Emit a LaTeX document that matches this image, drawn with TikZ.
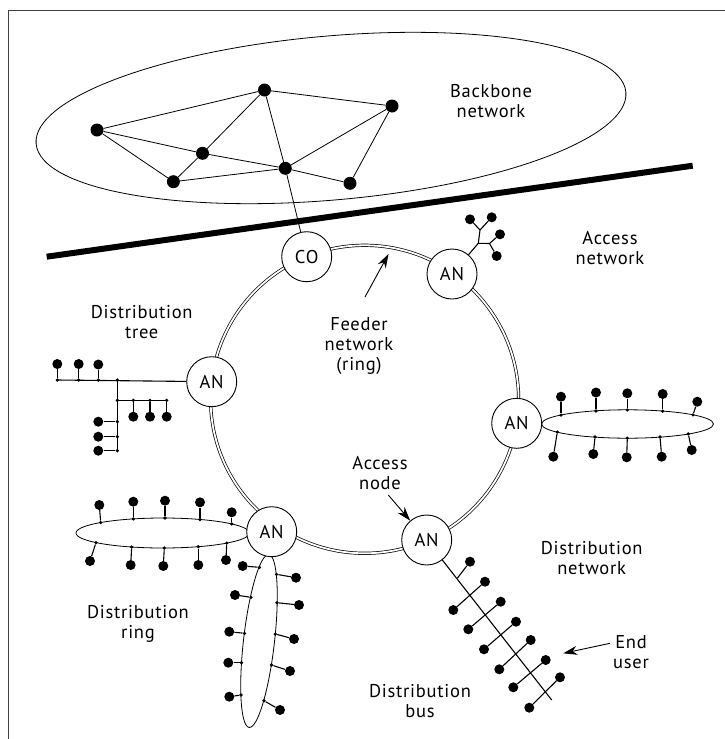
\documentclass[tikz,border=0pt]{standalone}
\usepackage{fontspec}
\setmainfont{PT Sans}[LetterSpace=4]
\usetikzlibrary{arrows.meta}
\begin{document}
\begin{tikzpicture}[x=1pt,y=-1pt,
  txt/.style={font=\fontsize{18.5}{20}\selectfont, align=center, inner sep=0pt},
  bbdot/.style={circle, fill=black, minimum size=13pt, inner sep=0pt},
  udot/.style={circle, fill=black, minimum size=10pt, inner sep=0pt},
  jdot/.style={circle, fill=black, minimum size=3.6pt, inner sep=0pt},
  netnode/.style={circle, draw, fill=white, line width=0.9pt, minimum size=50pt, inner sep=0pt, font=\fontsize{18.5}{20}\selectfont},
  link/.style={line width=0.8pt},
  stub/.style={line width=1.1pt},
  ringline/.style={draw=black, double=white, double distance=1.8pt, line width=0.7pt},
  ptr/.style={line width=0.9pt, -{Stealth[length=14pt, width=9pt]}},
  frameline/.style={line width=1pt, draw=black!75},
  thickline/.style={line width=6pt},
]
\useasboundingbox (0,0) rectangle (725,739);
\draw[frameline] (8,739) -- (8,10) -- (725,10);

% ---------- backbone ----------
\draw[link] (331,118) circle[x radius=296, y radius=82, rotate=5];
\node[bbdot] (A) at (97,130) {};
\node[bbdot] (B) at (264.5,90) {};
\node[bbdot] (C) at (392,106) {};
\node[bbdot] (D) at (202.5,153.3) {};
\node[bbdot] (E) at (173.4,181.7) {};
\node[bbdot] (F) at (285.3,168.3) {};
\node[bbdot] (G) at (350,183.3) {};
\node[txt] (bbl) at (491,101) {Backbone\\network};

\coordinate (tl1) at (46.7,256.7);
\coordinate (tl2) at (692.7,165.7);
\draw[thickline] (tl1) -- (tl2);

% ---------- ring ----------
\coordinate (ringc) at (364.6,399.3);
\draw[ringline] (ringc) circle[radius=154];

% right distribution ring
\draw[link] (627.5,424) circle[x radius=86, y radius=14.2];
% lower-left horizontal ring
\draw[link] (162.7,533) circle[x radius=86.7, y radius=15];
% lower-left vertical ring
\draw[link] (259,641) circle[x radius=15.5, y radius=87, rotate=-6.5];

\node[netnode] (CO) at (306.7,256.7) {CO};
\node[netnode] (ANur) at (452,274) {AN};
\node[netnode] (ANr) at (516.7,423.3) {AN};
\node[netnode] (ANb) at (426.7,540) {AN};
\node[netnode] (ANbl) at (271.7,531.7) {AN};
\node[netnode] (ANl) at (211.7,381.7) {AN};

\draw[link] (A)--(B) (A)--(D) (A)--(E) (D)--(B) (D)--(E) (D)--(F) (E)--(F)
  (B)--(F) (B)--(C) (C)--(F) (C)--(G) (F)--(G) (F)--(CO);

% ---------- labels ----------
\node[txt] (acl) at (610,248) {Access\\network};
\node[txt] (dtl) at (141.7,321.7) {Distribution\\tree};
\node[txt] (fdl) at (359,346) {Feeder\\network\\(ring)};
\node[txt] (anl) at (380,473) {Access\\node};
\node[txt] (dnl) at (591.7,558.3) {Distribution\\network};
\node[txt] (drl) at (138,624) {Distribution\\ring};
\node[txt] (dbl) at (420,701) {Distribution\\bus};
\node[txt] (eul) at (631,652) {End\\user};

\coordinate (fdtail) at (365,297);
\coordinate (fdtip) at (388.5,254);
\draw[ptr] (fdtail) -- (fdtip);
\coordinate (antail) at (388.3,495);
\draw[ptr] (antail) -- (ANb);
\coordinate (eutail) at (610,643.3);
\coordinate (eutip) at (563.3,653.3);
\draw[ptr] (eutail) -- (eutip);

% ---------- small tree at upper-right AN ----------
\coordinate (u1) at (478.3,243.3);
\coordinate (u2) at (480,230);
\coordinate (u3) at (489.5,243.5);
\node[udot] (ud1) at (470,219.3) {};
\node[udot] (ud2) at (491.7,217.3) {};
\node[udot] (ud3) at (500,234.3) {};
\node[udot] (ud4) at (496.7,256) {};
\draw[stub] (ANur) -- (u1) -- (u2) -- (ud1) (u2) -- (ud2) (u1) -- (u3) -- (ud3) (u3) -- (ud4);

% ---------- distribution tree ----------
\node[jdot] (t1) at (57.3,380) {};
\node[jdot] (t2) at (78.7,380) {};
\node[jdot] (t3) at (98.3,380) {};
\node[jdot] (t4) at (117.3,380) {};
\node[jdot] (t5) at (117.3,400.3) {};
\node[jdot] (t6) at (117.3,421.7) {};
\node[jdot] (t7) at (117.3,436.7) {};
\node[jdot] (t8) at (117.3,450.7) {};
\node[jdot] (h1) at (133.3,400.3) {};
\node[jdot] (h2) at (150,400.3) {};
\node[jdot] (h3) at (166.7,400.3) {};
\node[udot] (td1) at (57.3,364) {};
\node[udot] (td2) at (78.7,364) {};
\node[udot] (td3) at (98.3,364.5) {};
\node[udot] (td4) at (133.3,416.7) {};
\node[udot] (td5) at (150,416.7) {};
\node[udot] (td6) at (166.7,416.7) {};
\node[udot] (td7) at (98.3,421.7) {};
\node[udot] (td8) at (98.3,436.7) {};
\node[udot] (td9) at (98.3,450.7) {};
\draw[stub] (t1.center) -- (ANl);
\draw[stub] (t4.center) -- (t8.center) (t5.center) -- (h3.center);
\draw[stub] (t1) -- (td1) (t2) -- (td2) (t3) -- (td3)
  (h1) -- (td4) (h2) -- (td5) (h3) -- (td6)
  (t6) -- (td7) (t7) -- (td8) (t8) -- (td9);

% ---------- right ring users ----------
\foreach \n/\jx/\jy/\dx/\dy in {1/561/415.1/561/396.7, 2/596/411/596/392.5, 3/627.3/410/627.3/393.3,
   4/662.7/411.2/662.7/394, 5/693/414.9/697.3/401.7,
   6/557.3/432.1/553.3/456.7, 7/595/437/593.3/454, 8/627.3/438.2/626.7/457.3,
   9/660/437/661.7/456.7, 10/688.3/433.9/691.7/450}{
  \node[jdot] (rj\n) at (\jx,\jy) {};
  \node[udot] (rd\n) at (\dx,\dy) {};
  \draw[stub] (rj\n) -- (rd\n);
}

% ---------- lower-left horizontal ring users ----------
\foreach \n/\jx/\jy/\dx/\dy in {1/100.7/522.5/99.3/505, 2/133.3/518.9/133.3/501.7, 3/165/518/165/500.7,
   4/200/519.5/200/502.3, 5/231.7/523.9/231.7/512.3,
   6/96/542.6/90/561, 7/131.7/547/130.7/565, 8/164.3/548/163.3/566,
   9/198.3/546.7/198.3/565, 10/226.7/543.1/226/560}{
  \node[jdot] (hj\n) at (\jx,\jy) {};
  \node[udot] (hd\n) at (\dx,\dy) {};
  \draw[stub] (hj\n) -- (hd\n);
}

% ---------- lower-left vertical ring users ----------
\foreach \n/\jx/\jy/\dx/\dy in {1/259.5/567.3/242.7/566, 2/251/597.3/235/595, 3/244.5/633.3/229.3/631.7,
   4/241.5/662.7/228.3/662.7, 5/241/695/229.3/696.7,
   6/276.5/574.3/296/577.7, 7/277/602.7/299/605, 8/275.3/634/294/639,
   9/271.5/665/290/671, 10/264/700.7/280/710}{
  \node[jdot] (vj\n) at (\jx,\jy) {};
  \node[udot] (vd\n) at (\dx,\dy) {};
  \draw[stub] (vj\n) -- (vd\n);
}

% ---------- distribution bus ----------
\coordinate (busend) at (551.7,700);
\draw[stub] (ANb) -- (busend);
\coordinate (bj0) at (457.3,578.3);
\node[udot] (bu1) at (470,561.7) {};
\node[udot] (bu2) at (485,581.7) {};
\node[udot] (bu3) at (500.7,601.7) {};
\node[udot] (bu4) at (516,621.7) {};
\node[udot] (bu5) at (530.7,640) {};
\node[udot] (bu6) at (545.7,660) {};
\node[udot] (bu7) at (560,677.3) {};
\node[udot] (bl1) at (453.3,610) {};
\node[udot] (bl2) at (468.3,629.3) {};
\node[udot] (bl3) at (484,649.3) {};
\node[udot] (bl4) at (499.3,669.3) {};
\node[udot] (bl5) at (513.3,687.3) {};
\node[udot] (bl6) at (529.3,707.7) {};
\draw[stub] (bj0) -- (bu1) (bl1) -- (bu2) (bl2) -- (bu3) (bl3) -- (bu4)
  (bl4) -- (bu5) (bl5) -- (bu6) (bl6) -- (bu7);
\end{tikzpicture}
\end{document}
